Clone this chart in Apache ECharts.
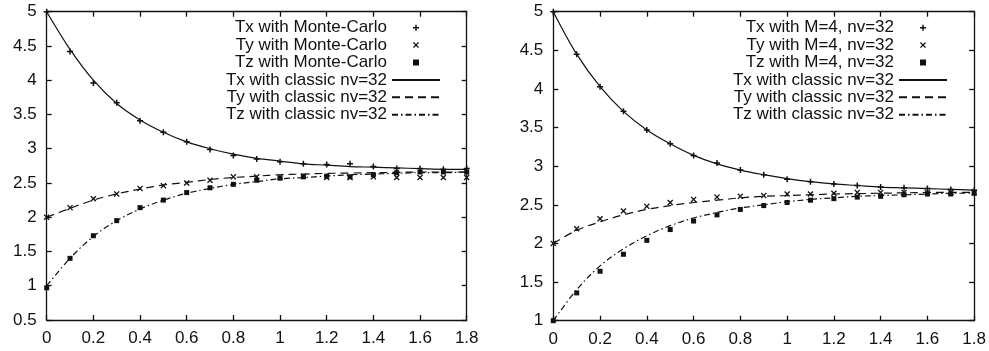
<html>
<head>
    <meta charset="utf-8">
    <title>Tx Ty Tz</title>
    <script src="https://cdn.jsdelivr.net/npm/echarts@6/dist/echarts.min.js"></script>
</head>
<body style="margin:0;background:#fff;">
    <div id="main" style="width: 989px;height:351px;"></div>
    <script type="text/javascript">
        var myChart = echarts.init(document.getElementById('main'));

        // abscisse commune
        var xs = [0, 0.1, 0.2, 0.3, 0.4, 0.5, 0.6, 0.7, 0.8, 0.9, 1.0, 1.1, 1.2, 1.3, 1.4, 1.5, 1.6, 1.7, 1.8];
        var xTicks = [0, 0.2, 0.4, 0.6, 0.8, 1, 1.2, 1.4, 1.6, 1.8];

        // gauche : Monte-Carlo
        var txMC = [5.0, 4.42, 3.96, 3.67, 3.41, 3.24, 3.10, 2.99, 2.90, 2.85, 2.81, 2.78, 2.77, 2.78, 2.74, 2.71, 2.71, 2.70, 2.71];
        var tyMC = [2.0, 2.14, 2.27, 2.34, 2.42, 2.46, 2.50, 2.54, 2.59, 2.59, 2.59, 2.60, 2.58, 2.58, 2.59, 2.58, 2.58, 2.58, 2.58];
        var tzMC = [0.97, 1.40, 1.73, 1.95, 2.14, 2.25, 2.36, 2.43, 2.48, 2.54, 2.57, 2.59, 2.60, 2.59, 2.62, 2.65, 2.66, 2.66, 2.66];
        var txClassicL = [5.0, 4.45, 4.0, 3.66, 3.42, 3.24, 3.10, 3.0, 2.92, 2.86, 2.82, 2.78, 2.76, 2.74, 2.73, 2.72, 2.71, 2.70, 2.70];
        var tyClassicL = [2.0, 2.13, 2.25, 2.34, 2.41, 2.47, 2.51, 2.55, 2.58, 2.60, 2.62, 2.63, 2.64, 2.645, 2.65, 2.655, 2.66, 2.66, 2.66];
        var tzClassicL = [1.0, 1.40, 1.72, 1.95, 2.12, 2.25, 2.35, 2.42, 2.48, 2.52, 2.56, 2.58, 2.60, 2.62, 2.63, 2.64, 2.65, 2.65, 2.66];

        // droite : M=4, nv=32
        var txM4 = [5.0, 4.45, 4.03, 3.71, 3.47, 3.29, 3.14, 3.04, 2.95, 2.89, 2.83, 2.80, 2.77, 2.75, 2.73, 2.72, 2.71, 2.70, 2.69];
        var tyM4 = [2.0, 2.19, 2.32, 2.42, 2.48, 2.53, 2.57, 2.60, 2.61, 2.62, 2.64, 2.64, 2.65, 2.66, 2.66, 2.66, 2.66, 2.66, 2.66];
        var tzM4 = [1.0, 1.36, 1.64, 1.86, 2.04, 2.18, 2.29, 2.37, 2.44, 2.49, 2.53, 2.56, 2.58, 2.60, 2.61, 2.63, 2.64, 2.64, 2.65];
        var txClassicR = [5.0, 4.45, 4.03, 3.71, 3.47, 3.29, 3.14, 3.03, 2.95, 2.89, 2.84, 2.80, 2.77, 2.75, 2.73, 2.72, 2.71, 2.70, 2.69];
        var tyClassicR = [2.0, 2.17, 2.28, 2.37, 2.44, 2.49, 2.53, 2.56, 2.59, 2.61, 2.62, 2.63, 2.64, 2.645, 2.65, 2.655, 2.66, 2.66, 2.66];
        var tzClassicR = [1.0, 1.40, 1.71, 1.93, 2.10, 2.23, 2.33, 2.40, 2.46, 2.50, 2.54, 2.57, 2.59, 2.61, 2.62, 2.63, 2.64, 2.65, 2.65];

        var namesL = ['Tx with Monte-Carlo', 'Ty with Monte-Carlo', 'Tz with Monte-Carlo',
            'Tx with classic nv=32', 'Ty with classic nv=32', 'Tz with classic nv=32'];
        var namesR = ['Tx with M=4, nv=32', 'Ty with M=4, nv=32', 'Tz with M=4, nv=32',
            'Tx with classic nv=32', 'Ty with classic nv=32', 'Tz with classic nv=32'];

        var ink = '#111';
        var font = 'Liberation Sans, Arial, Helvetica, sans-serif';
        var plusPath = 'path://M3,0H5V3H8V5H5V8H3V5H0V3H3Z';
        var crossPath = 'path://M0,1.2L1.2,0L4,2.8L6.8,0L8,1.2L5.2,4L8,6.8L6.8,8L4,5.2L1.2,8L0,6.8L2.8,4Z';
        var squarePath = 'path://M0,0H8V8H0Z';
        var dashTy = [8, 5];
        var dashTz = [6, 3, 1.5, 3];

        function pairs(v) {
            return xs.map(function (x, i) { return [x, v[i]]; });
        }

        function xAxes(gi) {
            var base = {
                type: 'value', gridIndex: gi, min: 0, max: 1.8, interval: 0.2,
                axisLine: { show: true, onZero: false, lineStyle: { color: ink, width: 1.3 } },
                axisTick: { show: true, inside: true, length: 5, lineStyle: { color: ink, width: 1.3 } },
                splitLine: { show: false }
            };
            return [
                Object.assign({}, base, {
                    position: 'bottom',
                    axisLabel: {
                        color: ink, fontSize: 17, fontFamily: font, margin: 10,
                        showMinLabel: true, showMaxLabel: true,
                        formatter: function (v) { return String(+v.toFixed(1)); }
                    }
                }),
                Object.assign({}, base, { position: 'top', axisLabel: { show: false } })
            ];
        }

        function yAxes(gi, min) {
            var base = {
                type: 'value', gridIndex: gi, min: min, max: 5, interval: 0.5,
                axisLine: { show: true, onZero: false, lineStyle: { color: ink, width: 1.3 } },
                axisTick: { show: true, inside: true, length: 5, lineStyle: { color: ink, width: 1.3 } },
                splitLine: { show: false }
            };
            return [
                Object.assign({}, base, {
                    position: 'left',
                    axisLabel: {
                        color: ink, fontSize: 17, fontFamily: font, margin: 10,
                        showMinLabel: true, showMaxLabel: true,
                        formatter: function (v) { return String(+v.toFixed(1)); }
                    }
                }),
                Object.assign({}, base, { position: 'right', axisLabel: { show: false } })
            ];
        }

        function scatter(name, data, symbol, size, ax) {
            return {
                type: 'scatter', name: name, data: pairs(data),
                xAxisIndex: ax, yAxisIndex: ax,
                symbol: symbol, symbolSize: size,
                itemStyle: { color: ink, opacity: 1 },
                z: 3, silent: true
            };
        }

        function line(name, data, dash, ax) {
            return {
                type: 'line', name: name, data: pairs(data),
                xAxisIndex: ax, yAxisIndex: ax,
                smooth: 0.35, symbol: 'none', showSymbol: false,
                lineStyle: { color: ink, width: 1.2, type: dash },
                // pas de rond dans la légende
                itemStyle: { color: ink, opacity: 0 },
                z: 2, silent: true
            };
        }

        function legend(names, right) {
            return {
                orient: 'vertical', align: 'right',
                right: right, top: 14,
                itemWidth: 48, itemHeight: 6, itemGap: 0,
                selectedMode: false,
                data: names,
                textStyle: { color: ink, fontSize: 17, fontFamily: font, lineHeight: 17.4 }
            };
        }

        option = {
            animation: false,
            backgroundColor: '#fff',
            grid: [
                { left: 46.7, top: 11.7, width: 420, height: 308.3 },
                { left: 553.3, top: 11.7, width: 421.7, height: 309 }
            ],
            legend: [legend(namesL, 543), legend(namesR, 36)],
            xAxis: xAxes(0).concat(xAxes(1)),
            yAxis: yAxes(0, 0.5).concat(yAxes(1, 1)),
            series: [
                scatter(namesL[0], txMC, plusPath, 6, 0),
                scatter(namesL[1], tyMC, crossPath, 6, 0),
                scatter(namesL[2], tzMC, squarePath, 5, 0),
                line(namesL[3], txClassicL, 'solid', 0),
                line(namesL[4], tyClassicL, dashTy, 0),
                line(namesL[5], tzClassicL, dashTz, 0),
                scatter(namesR[0], txM4, plusPath, 6, 2),
                scatter(namesR[1], tyM4, crossPath, 6, 2),
                scatter(namesR[2], tzM4, squarePath, 5, 2),
                line(namesR[3], txClassicR, 'solid', 2),
                line(namesR[4], tyClassicR, dashTy, 2),
                line(namesR[5], tzClassicR, dashTz, 2)
            ]
        };

        myChart.setOption(option);
    </script>
</body>
</html>
